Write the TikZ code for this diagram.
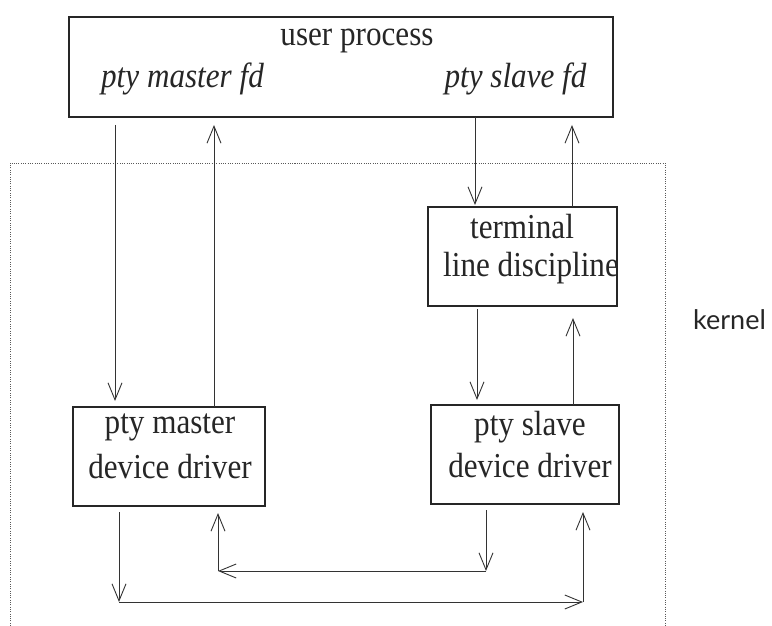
\documentclass[tikz,border=0pt]{standalone}
\usepackage{fontspec}
\setmainfont{Liberation Serif}[FakeStretch=0.89]
\newfontfamily\kernelfont{Lato}
\usetikzlibrary{arrows.meta}

\tikzset{
  boxnode/.style={draw=black!85, line width=1.2pt, rectangle, outer sep=0pt, inner sep=0pt},
  txt/.style={font=\fontsize{35}{40}\selectfont, text=black!85, anchor=base, inner sep=0pt},
  itxt/.style={txt, font=\fontsize{35}{40}\selectfont\itshape},
  arr/.style={draw=black!80, line width=0.9pt, -{Straight Barb[length=17pt,width=14pt,line width=0.9pt]}},
  kernelline/.style={draw=black!65, line width=0.8pt, dash pattern=on 1pt off 1.3pt}
}

\begin{document}
\begin{tikzpicture}[x=1pt, y=-1pt]
\useasboundingbox (0,0) rectangle (772,626);

% kernel region (open at the bottom)
\draw[kernelline] (10,626) -- (10,163) -- (665,163) -- (665,626);
\node[anchor=base west, inner sep=0pt, font=\kernelfont\fontsize{27}{32}\selectfont, text=black!85] (kernel) at (693,329) {kernel};

% boxes
\node[boxnode, minimum width=544pt, minimum height=100pt] (user) at (341,67) {};
\node[boxnode, minimum width=189pt, minimum height=99pt] (term) at (522.5,256.5) {};
\node[boxnode, minimum width=192pt, minimum height=99pt] (master) at (169,456.5) {};
\node[boxnode, minimum width=188pt, minimum height=99pt] (slave) at (525,454.5) {};

% box texts
\node[txt] (utitle) at (357,46) {user process};
\node[itxt] (ufdm) at (182.5,88) {pty master fd};
\node[itxt] (ufds) at (515.5,88) {pty slave fd};
\node[txt] (tt1) at (522,238) {terminal};
\node[txt] (tt2) at (531,276) {line discipline};
\node[txt] (mt1) at (170,433) {pty master};
\node[txt] (mt2) at (170,478) {device driver};
\node[txt] (st1) at (530,435) {pty slave};
\node[txt] (st2) at (530,477) {device driver};

% vertical columns of the connectors
\coordinate (xa) at (115,0);
\coordinate (xb) at (214,0);
\coordinate (xc) at (475,0);
\coordinate (xd) at (572,0);
\coordinate (xe) at (477,0);
\coordinate (xf) at (573,0);

% corners of the loops between the two drivers
\coordinate (bl) at (119,602);
\coordinate (br) at (583,602);
\coordinate (cr) at (486,571);
\coordinate (cl) at (218,571);

% user process <-> pty master
\draw[arr, shorten <=8pt, shorten >=6pt] (user.south -| xa) -- (master.north -| xa);
\draw[arr, shorten >=8pt] (master.north -| xb) -- (user.south -| xb);

% user process <-> line discipline
\draw[arr, shorten >=2pt] (user.south -| xc) -- (term.north -| xc);
\draw[arr, shorten >=8pt] (term.north -| xd) -- (user.south -| xd);

% line discipline <-> pty slave
\draw[arr, shorten <=3pt, shorten >=5pt] (term.south -| xe) -- (slave.north -| xe);
\draw[arr, shorten >=12pt] (slave.north -| xf) -- (term.south -| xf);

% pty master -> pty slave
\draw[arr, shorten <=6pt] (master.south -| bl) -- (bl);
\draw[arr] (bl) -- (br);
\draw[arr, shorten >=8pt] (br) -- (slave.south -| br);

% pty slave -> pty master
\draw[arr, shorten <=6pt] (slave.south -| cr) -- (cr);
\draw[arr] (cr) -- (cl);
\draw[arr, shorten >=7pt] (cl) -- (master.south -| cl);
\end{tikzpicture}
\end{document}
